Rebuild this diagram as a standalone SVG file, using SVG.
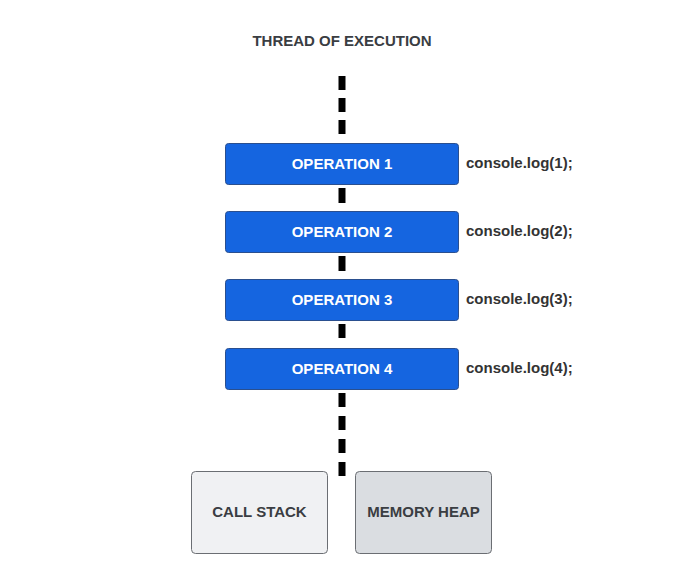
<svg xmlns="http://www.w3.org/2000/svg" width="684" height="586" viewBox="0 0 684 586">
<style>
.t{font-family:"Liberation Sans",Arial,sans-serif;font-weight:bold;font-size:15px;fill:#3a3d42}
.op rect{fill:#1565e0;stroke:#2a4f8f;stroke-width:1}
.op text{font-family:"Liberation Sans",Arial,sans-serif;font-weight:bold;font-size:15px;fill:#ffffff}
.code{font-family:"Liberation Sans",Arial,sans-serif;font-weight:bold;font-size:15px;fill:#333333}
.dash{stroke:#000;stroke-width:7;fill:none}
.gbox{stroke:#6b6e73;stroke-width:1}
</style>
<rect width="684" height="586" fill="#ffffff"/>
<text class="t" x="342" y="45.5" text-anchor="middle">THREAD OF EXECUTION</text>
<g id="connectors">
<path class="dash" d="M342 76V134" stroke-dasharray="14 8"/>
<path class="dash" d="M342 188V203"/>
<path class="dash" d="M342 256V271"/>
<path class="dash" d="M342 324V338"/>
<path class="dash" d="M342 393V477" stroke-dasharray="14 9"/>
</g>
<g id="op1" class="op"><rect x="225.5" y="143.5" width="233" height="41" rx="3"/><text x="342" y="168.5" text-anchor="middle">OPERATION 1</text></g>
<text class="code" x="466" y="168">console.log(1);</text>
<g id="op2" class="op"><rect x="225.5" y="211.5" width="233" height="41" rx="3"/><text x="342" y="236.5" text-anchor="middle">OPERATION 2</text></g>
<text class="code" x="466" y="236">console.log(2);</text>
<g id="op3" class="op"><rect x="225.5" y="279.5" width="233" height="41" rx="3"/><text x="342" y="304.5" text-anchor="middle">OPERATION 3</text></g>
<text class="code" x="466" y="304">console.log(3);</text>
<g id="op4" class="op"><rect x="225.5" y="348.5" width="233" height="41" rx="3"/><text x="342" y="373.5" text-anchor="middle">OPERATION 4</text></g>
<text class="code" x="466" y="373">console.log(4);</text>
<g id="callstack"><rect class="gbox" x="191.5" y="471.5" width="136" height="82" rx="4" fill="#f0f1f3"/><text class="t" x="259.5" y="517" text-anchor="middle">CALL STACK</text></g>
<g id="memoryheap"><rect class="gbox" x="355.5" y="471.5" width="136" height="82" rx="4" fill="#dadde1"/><text class="t" x="423.5" y="517" text-anchor="middle">MEMORY HEAP</text></g>
</svg>
